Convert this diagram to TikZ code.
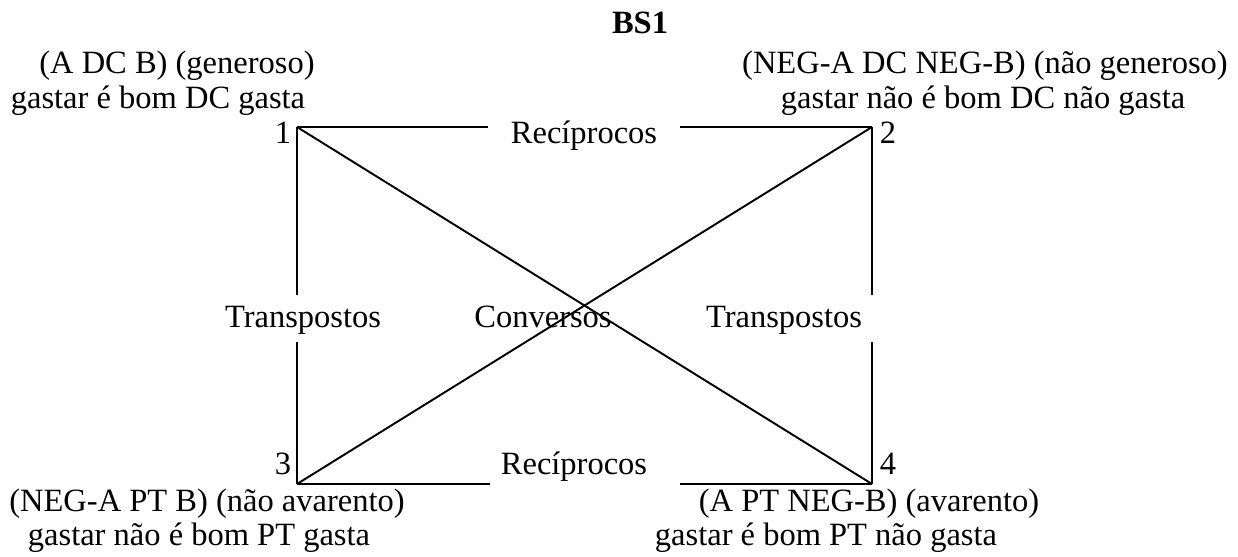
\documentclass[tikz,border=0pt]{standalone}
\usepackage{fontspec}
\setmainfont{Liberation Serif}

\begin{document}
\begin{tikzpicture}[
  x=0.02cm, y=-0.02cm,
  edge/.style={line width=1.1pt},
  txt/.style={inner sep=0pt, anchor=base, font=\fontsize{18.5}{19.5}\selectfont},
  head/.style={txt, font=\fontsize{18.5}{19.5}\selectfont\bfseries},
]

\useasboundingbox (0,0) rectangle (1238,556);

\def\xL{297}
\def\xR{872}
\def\yT{127}
\def\yB{484}

% corners of the square
\coordinate (c1) at (\xL,\yT);
\coordinate (c2) at (\xR,\yT);
\coordinate (c3) at (\xL,\yB);
\coordinate (c4) at (\xR,\yB);

% ends of the broken sides
\coordinate (t1) at (488,\yT);
\coordinate (t2) at (680,\yT);
\coordinate (b1) at (490,\yB);
\coordinate (b2) at (680,\yB);
\coordinate (l1) at (\xL,295);
\coordinate (l2) at (\xL,342);
\coordinate (r1) at (\xR,295);
\coordinate (r2) at (\xR,342);

\node[head] (title) at (640,33) {BS1};

\node[txt] (L1a) at (177,73.6) {(A DC B) (generoso)};
\node[txt] (L1b) at (158,108)  {gastar é bom DC gasta};
\node[txt] (L2a) at (985,73.6) {(NEG-A DC NEG-B) (não generoso)};
\node[txt] (L2b) at (983,108)  {gastar não é bom DC não gasta};
\node[txt] (L3a) at (207,511)  {(NEG-A PT B) (não avarento)};
\node[txt] (L3b) at (199,545)  {gastar não é bom PT gasta};
\node[txt] (L4a) at (869,511)  {(A PT NEG-B) (avarento)};
\node[txt] (L4b) at (826,545)  {gastar é bom PT não gasta};

\node[txt] (n1) at (283,143) {1};
\node[txt] (n2) at (888,143) {2};
\node[txt] (n3) at (283,474) {3};
\node[txt] (n4) at (888,474) {4};

\node[txt] (recT) at (584,143) {Recíprocos};
\node[txt] (recB) at (574,474) {Recíprocos};
\node[txt] (trL)  at (303,327) {Transpostos};
\node[txt] (conv) at (543,327) {Conversos};
\node[txt] (trR)  at (784,327) {Transpostos};

\draw[edge] (c1) -- (t1);
\draw[edge] (t2) -- (c2);
\draw[edge] (c3) -- (b1);
\draw[edge] (b2) -- (c4);
\draw[edge] (c1) -- (l1);
\draw[edge] (l2) -- (c3);
\draw[edge] (c2) -- (r1);
\draw[edge] (r2) -- (c4);

\draw[edge] (c1) -- (c4);
\draw[edge] (c2) -- (c3);

\end{tikzpicture}
\end{document}
